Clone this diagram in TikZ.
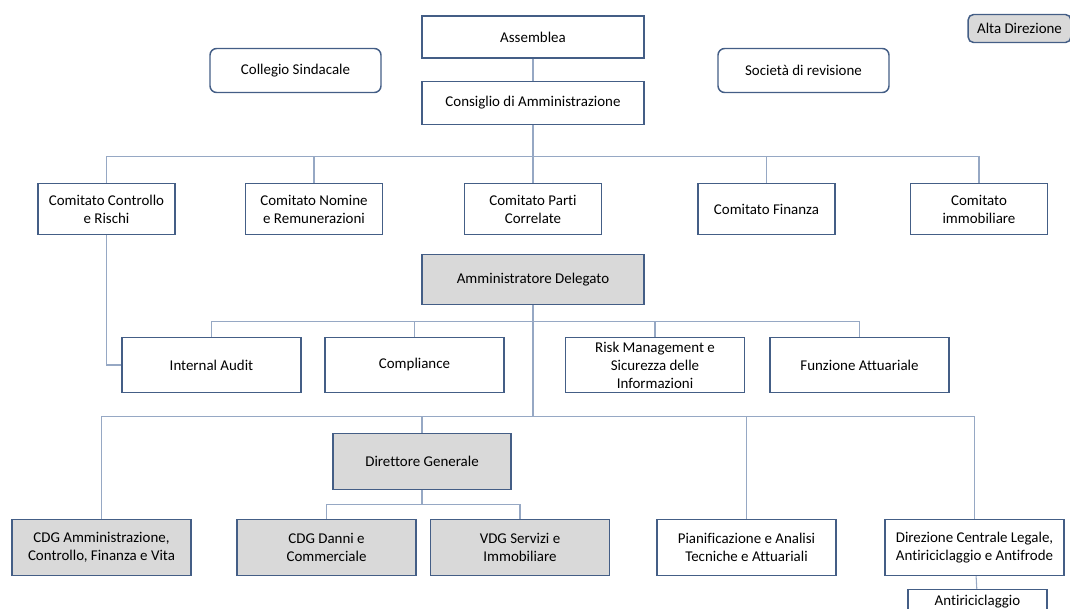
\documentclass[tikz,border=0pt]{standalone}
\usepackage{fontspec}
\setmainfont{Carlito}[Ligatures={NoCommon}]
\usetikzlibrary{positioning}
\definecolor{boxline}{RGB}{68,94,134}
\definecolor{connline}{RGB}{150,168,196}
\definecolor{boxgray}{RGB}{217,217,217}
\tikzset{box/.style={draw=boxline,line width=1.1pt,fill=white,align=center,inner sep=1pt,
                     font=\fontsize{11.2}{13.5}\selectfont},
         gbox/.style={box,fill=boxgray},
         rbox/.style={box,rounded corners=5pt},
         conn/.style={draw=connline,line width=0.8pt},
         }
\begin{document}
\begin{tikzpicture}[x=0.75pt,y=-0.75pt]
\useasboundingbox (0,0) rectangle (1070,609);
\clip (0,0) rectangle (1070,609);
% vertice
\node[box,minimum width=166.5pt,minimum height=31.5pt] (asm) at (533,37) {Assemblea};
\node[box,minimum width=166.5pt,minimum height=32.25pt] (cda) at (533,103) {Consiglio di Amministrazione};
\node[rbox,minimum width=128.25pt,minimum height=33pt] (cs) at (295.5,70.5) {Collegio Sindacale};
\node[rbox,minimum width=128.25pt,minimum height=33pt] (sdr) at (803.5,70.5) {Società di revisione};
\node[gbox,rounded corners=4pt,minimum width=77pt,minimum height=21pt] (alta) at (1019.5,28.5) {Alta Direzione};
% comitati
\tikzset{cbox/.style={box,minimum width=102.75pt,minimum height=38.25pt}}
\node[cbox] (ccr) at (106.5,209) {Comitato Controllo\\e Rischi};
\node[cbox] (cnr) at (314,209) {Comitato Nomine\\e Remunerazioni};
\node[cbox] (cpc) at (533,209) {Comitato Parti\\Correlate};
\node[cbox] (cfin) at (766.5,209) {Comitato Finanza};
\node[cbox] (cimm) at (979,209) {Comitato\\immobiliare};
% amministratore delegato e funzioni
\node[gbox,minimum width=166.5pt,minimum height=37.5pt] (ad) at (533,279.5) {Amministratore Delegato};
\tikzset{fbox/.style={box,minimum width=134.25pt,minimum height=41.25pt}}
\node[fbox] (ia) at (211.5,365) {Internal Audit};
\node[fbox] (comp) at (414.5,365) {Compliance};
\node[fbox] (risk) at (655,365) {Risk Management e\\Sicurezza delle\\Informazioni};
\node[fbox] (fatt) at (859.5,365) {Funzione Attuariale};
% direzioni
\node[gbox,minimum width=133.5pt,minimum height=42pt] (dg) at (422,461.5) {Direttore Generale};
\tikzset{dbox/.style={box,minimum width=134.25pt,minimum height=42pt}}
\node[dbox,fill=boxgray] (cdga) at (101.5,547.5) {CDG Amministrazione,\\Controllo, Finanza e Vita};
\node[dbox,fill=boxgray] (cdgd) at (326.5,547.5) {CDG Danni e\\Commerciale};
\node[dbox,fill=boxgray] (vdg) at (520,547.5) {VDG Servizi e\\Immobiliare};
\node[dbox] (pian) at (746.5,547.5) {Pianificazione e Analisi\\Tecniche e Attuariali};
\node[dbox] (dcl) at (974.5,547.5) {Direzione Centrale Legale,\\Antiriciclaggio e Antifrode};
\node[box,minimum width=104.25pt,minimum height=18pt] (anti) at (977.5,601.5) {Antiriciclaggio};
% collegamenti
\draw[conn] (asm) -- (cda);
\draw[conn] (cda.south) -- ++(0,31.5) coordinate (b1);
\foreach \n in {ccr,cnr,cpc,cfin,cimm}
  \draw[conn] (b1) -| (\n.north);
\draw[conn] (ad.south) -- ++(0,16) coordinate (b2);
\foreach \n in {ia,comp,risk,fatt}
  \draw[conn] (b2) -| (\n.north);
\draw[conn] (ad.south) -- ++(0,111) coordinate (b3);
\foreach \n in {cdga,dg,pian,dcl}
  \draw[conn] (b3) -| (\n.north);
\draw[conn] (ccr.south) |- (ia.west);
\draw[conn] (dg.south) -- ++(0,14) coordinate (b4);
\foreach \n in {cdgd,vdg}
  \draw[conn] (b4) -| (\n.north);
\draw[conn] (dcl) -- (anti);
\end{tikzpicture}
\end{document}
